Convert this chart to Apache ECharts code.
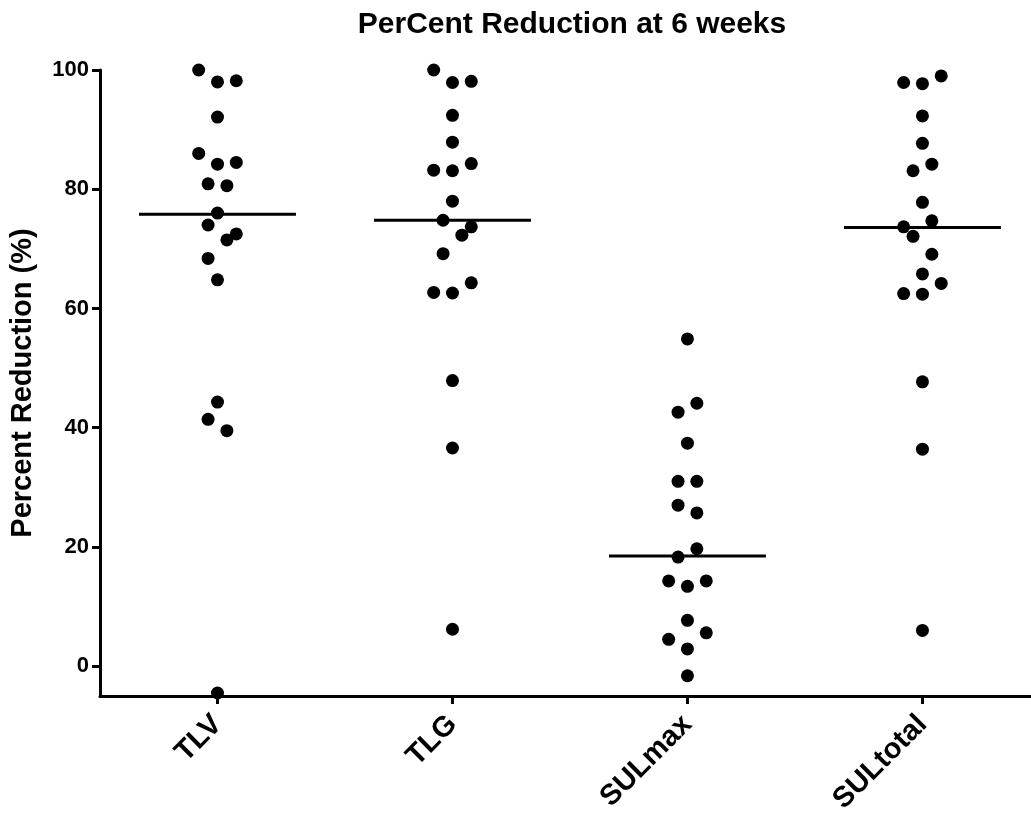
<!DOCTYPE html>
<html>
<head>
<meta charset="utf-8">
<script src="https://cdn.jsdelivr.net/npm/echarts@6/dist/echarts.min.js"></script>
<style>html,body{margin:0;padding:0;background:#fff;}#c{width:1031px;height:817px;}</style>
</head>
<body>
<div id="c"></div>
<script>
// ---- data ----
var categories = ['TLV', 'TLG', 'SULmax', 'SULtotal'];
var yTicks = [0, 20, 40, 60, 80, 100];

var tlvValues = [100.0, 98.0, 98.2, 92.1, 86.0, 84.2, 84.5, 80.9, 80.6, 76.0, 74.0, 72.5, 71.5, 68.4, 64.8, 44.3, 41.4, 39.5, -4.5];
var tlvSlots  = [-2, 0, 2, 0, -2, 0, 2, -1, 1, 0, -1, 2, 1, -1, 0, 0, -1, 1, 0];

var tlgValues = [100.0, 97.9, 98.1, 92.4, 87.9, 83.2, 83.1, 84.3, 78.0, 74.8, 73.7, 72.3, 69.2, 62.7, 62.6, 64.3, 47.9, 36.6, 6.2];
var tlgSlots  = [-2, 0, 2, 0, 0, -2, 0, 2, 0, -1, 2, 1, -1, -2, 0, 2, 0, 0, 0];

var sulmaxValues = [54.9, 44.1, 42.6, 37.4, 31.0, 31.0, 27.0, 25.7, 19.7, 18.3, 14.3, 13.4, 14.3, 7.7, 5.6, 4.5, 2.9, -1.6];
var sulmaxSlots  = [0, 1, -1, 0, -1, 1, -1, 1, 1, -1, -2, 0, 2, 0, 2, -2, 0, 0];

var sultotalValues = [97.9, 97.7, 99.0, 92.3, 87.7, 83.1, 84.2, 77.8, 74.7, 73.7, 72.1, 69.1, 65.8, 64.2, 62.5, 62.4, 47.7, 36.4, 6.0];
var sultotalSlots  = [-2, 0, 2, 0, 0, -1, 1, 0, 1, -2, -1, 1, 0, 2, -2, 0, 0, 0, 0];

var medians = [75.8, 74.8, 18.5, 73.6];

// ---- build chart ----
var groups = [
  [tlvValues, tlvSlots],
  [tlgValues, tlgSlots],
  [sulmaxValues, sulmaxSlots],
  [sultotalValues, sultotalSlots]
];
var slotWidth = 0.04;   // horizontal jitter step (category units)
var medianHalf = 0.334; // half length of median bar (category units)
var FONT = 'Liberation Sans, Arial, Helvetica, sans-serif';

var series = [];
groups.forEach(function (g, i) {
  var pts = g[0].map(function (v, k) { return [i + 1 + g[1][k] * slotWidth, v]; });
  series.push({
    type: 'scatter', name: categories[i], data: pts,
    symbol: 'circle', symbolSize: 13,
    itemStyle: { color: '#000', opacity: 1 }, z: 3, silent: true, clip: false
  });
  series.push({
    type: 'line', data: [[i + 1 - medianHalf, medians[i]], [i + 1 + medianHalf, medians[i]]],
    showSymbol: false, symbol: 'none',
    lineStyle: { color: '#000', width: 3 }, z: 2, silent: true
  });
});

var chart = echarts.init(document.getElementById('c'));
chart.setOption({
  animation: false,
  backgroundColor: '#fff',
  title: {
    text: 'PerCent Reduction at 6 weeks',
    left: 567, top: 5, textAlign: 'center',
    textStyle: { fontFamily: FONT, fontWeight: 'bold', fontSize: 30, color: '#000' }
  },
  grid: { left: 100, right: 0, top: 70, bottom: 121, containLabel: false, outerBoundsMode: 'none' },
  xAxis: {
    type: 'value', min: 0.5, max: 4.462,
    splitLine: { show: false },
    axisLine: { show: true, onZero: false, lineStyle: { color: '#000', width: 3 } },
    axisTick: { show: true, customValues: [1, 2, 3, 4], length: 8, lineStyle: { color: '#000', width: 3 } },
    axisLabel: {
      customValues: [1, 2, 3, 4], rotate: 45, margin: 24,
      formatter: function (v) { return categories[Math.round(v) - 1]; },
      fontFamily: FONT, fontWeight: 'bold', fontSize: 29, color: '#000'
    }
  },
  yAxis: {
    type: 'value', min: -5, max: 100,
    name: 'Percent Reduction (%)', nameLocation: 'middle', nameGap: 63,
    nameTextStyle: { fontFamily: FONT, fontWeight: 'bold', fontSize: 29, color: '#000' },
    splitLine: { show: false },
    axisLine: { show: true, onZero: false, lineStyle: { color: '#000', width: 3 } },
    axisTick: { show: true, customValues: yTicks, length: 8, lineStyle: { color: '#000', width: 3 } },
    axisLabel: {
      customValues: yTicks, margin: 11,
      fontFamily: FONT, fontWeight: 'bold', fontSize: 22, color: '#000'
    }
  },
  series: series
});
</script>
</body>
</html>
